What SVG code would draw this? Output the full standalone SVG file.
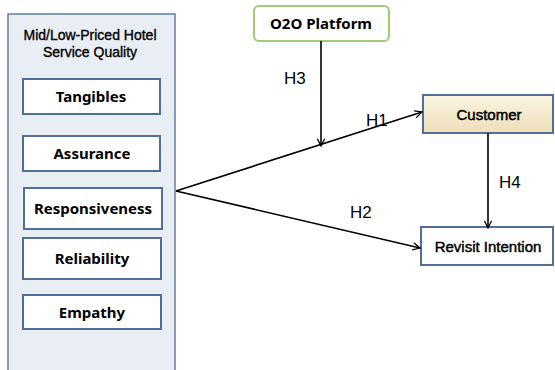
<svg xmlns="http://www.w3.org/2000/svg" width="555" height="370" viewBox="0 0 555 370">
<defs>
<linearGradient id="cg" x1="0" y1="0" x2="0" y2="1">
<stop offset="0" stop-color="#fbf4e2"/>
<stop offset="1" stop-color="#efdfb8"/>
</linearGradient>
<marker id="arr" viewBox="0 0 10 10" refX="9" refY="5" markerWidth="9" markerHeight="9" markerUnits="userSpaceOnUse" orient="auto">
<path d="M1,1 L9,5 L1,9" fill="none" stroke="#000" stroke-width="1.4"/>
</marker>
<style>
.box{fill:#fff;stroke:#4f6f98;stroke-width:2}
.lbl{font-family:"Noto Sans","Liberation Sans",sans-serif;font-weight:bold;font-size:15px;fill:#000;text-anchor:middle}
.sub{font-family:"Liberation Sans",Arial,sans-serif;fill:#000;stroke:#000;stroke-width:0.35;text-anchor:middle}
.h{font-family:"Liberation Sans",Arial,sans-serif;font-size:17px;fill:#000}
.ln{stroke:#000;stroke-width:1.6;fill:none;marker-end:url(#arr)}
</style>
</defs>
<g id="service-quality">
<rect x="8" y="14" width="167" height="370" fill="#e9edf4" stroke="#5f7fa6" stroke-width="1.5"/>
<text class="sub" x="90" y="40" font-size="14">Mid/Low-Priced Hotel</text>
<text class="sub" x="90" y="57" font-size="14">Service Quality</text>
</g>
<g id="tangibles"><rect class="box" x="23" y="79" width="137" height="35"/><text class="lbl" x="91" y="102">Tangibles</text></g>
<g id="assurance"><rect class="box" x="23" y="136" width="137" height="35"/><text class="lbl" x="92" y="159">Assurance</text></g>
<g id="responsiveness"><rect class="box" x="24" y="188" width="138" height="41"/><text class="lbl" x="93" y="214">Responsiveness</text></g>
<g id="reliability"><rect class="box" x="23" y="238" width="138" height="41"/><text class="lbl" x="92" y="264">Reliability</text></g>
<g id="empathy"><rect class="box" x="23" y="295" width="138" height="34"/><text class="lbl" x="92" y="318">Empathy</text></g>
<g id="o2o"><rect x="254" y="6" width="135" height="35" rx="5" fill="#fff" stroke="#9ccc74" stroke-width="2"/><text class="lbl" x="321" y="29">O2O Platform</text></g>
<g id="customer"><rect x="423" y="95" width="130" height="38" fill="url(#cg)" stroke="#4f6f98" stroke-width="2"/><text class="sub" x="489" y="120" font-size="15" style="stroke-width:0.5">Customer</text></g>
<g id="revisit"><rect class="box" x="421" y="227" width="132" height="38"/><text class="sub" x="488" y="252" font-size="15" style="stroke-width:0.45">Revisit Intention</text></g>
<g id="connectors">
<path class="ln" d="M176,191 L422,112"/>
<path class="ln" d="M176,191 L420,248"/>
<path class="ln" d="M321,41 L321,146"/>
<path class="ln" d="M488,133 L488,228"/>
<text class="h" x="284" y="84">H3</text>
<text class="h" x="366" y="126">H1</text>
<text class="h" x="350" y="218">H2</text>
<text class="h" x="499" y="188">H4</text>
</g>
</svg>
